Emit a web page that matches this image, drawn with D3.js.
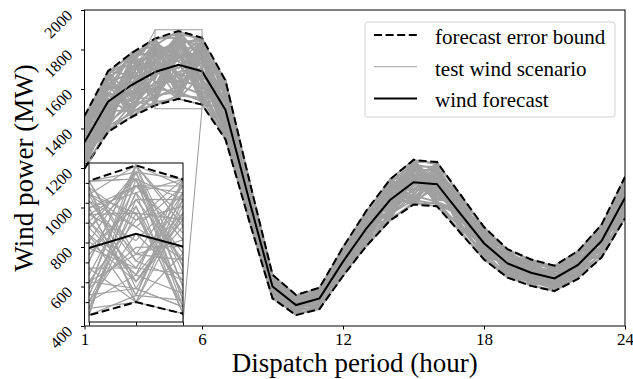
<!DOCTYPE html>
<html>
<head>
<meta charset="utf-8">
<title>Wind scenarios</title>
<style>
  body { margin: 0; background: #fff; }
  text { font-family: "Liberation Serif", "Times New Roman", serif; fill: #000; }
</style>
</head>
<body>
<script src="https://cdn.jsdelivr.net/npm/d3@7"></script>
<script>

// ---- data ----
var hours = d3.range(1, 25);
var forecast   = [1330, 1536, 1620, 1686, 1722, 1690, 1494, 1040, 600, 506, 540, 726,
                  895, 1038, 1128, 1118, 968, 819, 717, 670, 641, 709, 830, 1050];
var upperBound = [1463, 1690, 1782, 1855, 1894, 1859, 1643, 1144, 660, 557, 594, 799,
                  985, 1142, 1241, 1230, 1065, 901, 789, 737, 705, 780, 913, 1155];
var lowerBound = [1197, 1382, 1458, 1517, 1550, 1521, 1345, 936, 540, 455, 486, 653,
                  806, 934, 1015, 1006, 871, 737, 645, 603, 577, 638, 747, 945];

// error of each test scenario against the forecast, in percent
var scenarioErrPct = [
  [ 3,-7, 9,-2,10,-6, 4, 8,-9, 1,-4, 6,-10, 2, 7,-3, 5,-8, 0, 9,-5, 3,-1, 6],
  [-8, 5,-3, 9,-10, 7,-1,-6, 4,10,-2,-9, 8,-5, 0, 6,-7, 2,10,-4, 7,-9, 5,-2],
  [10, 2,-6, 4, 8,-9, 6,-3,-8, 5, 9, 1,-4,10,-7, 3,-1, 7,-6, 2,-10, 8, 4,-5],
  [-4,-10, 6, 1,-7, 3, 9, 5, 2,-8, 7,-5, 0,-9,10,-2, 8,-4, 6,-7, 1, 5,-10, 9],
  [ 6, 9,-8,-5, 2,10,-7, 1, 7,-3,-10, 4, 9,-1,-6, 8,-3,10,-9, 5, 3,-2, 7,-8],
  [-1, 4,10,-9, 5,-2,-8, 9,-4, 6, 2,-7, 5, 3,-10, 1, 7,-6, 8,-3,-9,10,-5, 0],
  [ 8,-3,-1, 7,-4, 5, 2,-10,10,-6, 3, 8,-8, 6, 4,-9, 0, 1,-5,10, 6,-7, 2, 9],
  [-10, 7, 3,-6, 9,-8,10, 4,-2, 0,-9, 5, 7,-4, 2, 9,-6,-3, 4,-1, 8,-4,10,-7],
  [ 2,-5, 8,10,-3, 1,-9, 6, 9,-7, 4,-1,-6, 8,-8, 5,10,-10, 3, 7,-2, 1,-8, 4],
  [-6, 1,-9, 3, 7, 9, 5,-7,-5, 8,-6,10, 2,-2, 9,-10, 4, 6,-8,-3, 5, 9, 0,-4],
  [ 5,10,-4,-8, 0,-5, 8, 2,-10, 4, 6,-3,-9, 7, 1,-6, 9,-2, 7, 4,-7,-8, 6,10],
  [-3,-8, 5, 6,-9,10,-4,-1, 7,-10, 9, 2, 6,-7,-3, 4,-9, 8,-1,-6,10, 3,-4, 1],
  [ 9,-2, 1,-7, 6,-1, 3,10,-6, 2,-8, 7,-2, 4, 8,-8, 1, 5,10,-9,-4, 6, 8,-3],
  [-7, 6,-10, 8, 3,-7,-6, 0, 5, 9, 1,-8,10,-10, 6, 2,-5,-9, 9, 1, 4,-6, 3, 7],
  [ 1,-9, 7, 2,-6, 4,10,-5, 3,-4, 8, 9,-7, 5,-2,10,-8, 3,-3, 6,-10, 7,-9, 2],
  [ 4, 3,-5,-10,10,-3,-2, 7,-7, 6,-5, 0, 4, 9,-9,-1, 6,-7, 2, 8, 9,-1, 5,-10],
  [-9,-4, 2, 5,-1, 8, 7,-9, 8,-2,10,-6,-3, 1, 5, 7,-10, 9,-7, 3,-3, 4,-6, 8],
  [ 7, 8,-7, 0, 4,-10, 1, 3,-3,10,-7, 6, 8,-8,-5, 3, 2,-5, 5,-10, 7,-3, 9, 5],
  [-2,-6, 4, 9,-8, 6,-10, 8, 1,-9, 5,-2,-1,10, 3,-7, 7, 0,-6, 9,-8, 8,-2,-6],
  [10,-1,-2,-4, 7, 2, 6,-4, 6, 3,-3,10,-8, 2,-10, 6,-4, 7, 1,-5, 2,-10,10, 3],
  [-5, 9, 8, 4,-5,-4,-3, 5,-8,-1, 7,-9, 3,-6,10, 0, 5,-8, 8, 2,-6, 6,-7,10],
  [ 0,-10,-6, 7, 1, 9, 4,-8,10, 7,-1, 3,-5, 9,-4, 8,-2, 4,-10, 6,10,-5, 1,-9],
  [ 6, 2,10,-3,-10, 5,-7, 9,-1,-5, 3,-4, 7,-3, 4,-5,10,-1, 6,-8, 0, 2,-3, 6],
  [-8, 5, 0,10, 8,-8, 9,-2, 4,-8,-10, 8, 1, 6,-6, 9,-7, 2,-4, 4,-5, 9, 7,-1],
  [ 3,-3,-8,-1, 5, 7,-5, 1,-9, 9, 2,-7,10,-9, 7,-3, 3,10,-2,-7, 8,-7, 4, 2],
  [-10,10, 3,-6,-2, 0, 8,-6, 7, 1,-4, 5,-10, 3, 9,-9,-1, 6, 9, 0,-9, 1,-8, 7],
  [ 8,-7, 6, 3, 9,-6, 0,10,-4,-6,10,-1, 5,-1,-8, 2, 8,-9, 4,10,-1,-4, 6,-5],
  [-4, 1,-9, 8,-7, 4,-8,-3, 9, 5,-9, 9,-4, 7, 1, 6,-6, 0,-8, 5, 6,10,-5, 3],
  [ 5, 7, 9,-9, 3,-9,10, 6,-6,-3, 6, 1, 9,-5, 6,-10, 5,-3, 7,-4, 3,-8, 9,-2],
  [-1,-8,-4, 6,-9, 8,-1,-10, 2, 8,-2,-10, 0,10,-5, 4,-9, 8,-9, 7,-7, 5, 0, 9],
  [ 9, 4, 1,-2,10, 3, 5, 2,-10, 0, 4, 7,-6,-4, 8,-4, 9,-6, 5,-2, 9,-2, 8,-8],
  [-6,-2, 7,10,-4,-5, 3, 7, 5,-10, 8,-3, 6, 1,-9,10, 0, 3,-5, 8,-4, 7,-10, 4],
  [ 2, 9,-10,-7, 6,10,-9,-5, 3, 6,-6, 4,-9, 8, 0,-7, 6,-10,10,-6, 4,-9, 3, 0],
  [-9,-5, 5, 2,-10,-1, 7, 4,-7,10, 0, 9, 3,-7, 5, 1,-8, 5,-3, 9,-10, 3,-6,10],
  [ 7, 0,-3, 9, 2, 6,-4,-9, 8,-4, 9,-6,-7, 5,10,-6, 4, 9,-10, 1, 5, 8, 2,-7],
  [-3, 6, 4,-5,-8,-9,10, 8,-5, 3,-10, 0, 8,-2,-1, 7,-3,-4, 2,-9,10,-6, 9, 1],
  [ 4,-9,10, 5, 7, 1,-6,-1, 1,-9, 5,10,-1, 4,-7, 3,10, 1,-7, 6,-2, 0,-4, 5],
  [-7, 3,-7,-3,-5, 7, 2, 3,10, 7,-7,-5, 9,-10, 2,-8, 1, 7, 8,-3, 1, 9, 7,-3],
  [10,-6, 2, 1, 9,-4,-10, 5,-2,-7, 1, 6,-3, 9,-3, 5,-5,-8, 3,10,-8,-3, 5, 8],
  [ 0, 8,-5, 7,-3, 9, 6,-7, 6, 4, 7,-8, 4,-8, 9, 0, 7, 4,-8,-5, 7, 4,-9, 6],
  [-5,-1, 8,-8, 4,-7, 9, 0,-8, 2,-5, 3,-9, 6, 4,-9, 2,-7, 6, 3,-6,10, 1,-10],
  [ 6, 5,-1, 4,-7, 5,-3, 9, 4,-2,10,-4, 7, 0,-9, 8,-10,10, 0,-8, 3,-5,10, 2],
  [-2,-7, 6,-10, 8,-3, 4,-4,-9, 9,-8, 8, 2,-5, 7,-2, 5,-2, 9, 4,-3, 6,-7, 9],
  [ 8,10,-9, 3,-6,10,-5, 6, 7,-5, 3,-9,-2,10,-4, 9,-4, 6,-6, 7, 8,-10, 4,-6],
  [-8,-3, 3, 8, 1,-2, 8,-8, 0, 6,-3, 5,10,-3, 3,-6, 8,-5, 4,-10,-1, 2, 8, 3],
  [ 3, 6,-2,-6,10, 4,-9, 2,-3,-8, 9,-2,-4, 7,-10, 6,-7, 8,-9, 2, 6,-8,-3, 7],
  [-10,-4, 9, 0,-5, 8, 1,-2, 8, 5,-1, 7,-8, 2, 6,-4, 3, 0, 7,-7, 9, 4,-10,-4],
  [ 5, 2,-6, 6, 6,-10, 5,10,-7, 0, 6,-10, 6,-9, 8, 2,-9, 9,-4, 8,-9, 7, 6, 4],
  // scenarios that stay close to one of the bounds
  [10, 9,10, 8,10, 9,10,10, 9,10, 8,10, 9,10,10, 9,10, 8,10, 9,10,10, 9,10],
  [ 8,10, 9,10, 9,10, 8, 9,10, 9,10, 9,10, 8, 9,10, 9,10, 9,10, 8, 9,10, 8],
  [ 9, 8, 7,10, 8, 7, 9, 8, 7, 8, 9, 8, 7, 9, 8, 7, 8, 9, 7, 8, 9, 7, 8, 9],
  [ 6, 7, 9, 6, 7, 8, 6, 7, 8, 6, 7, 6, 8, 6, 7, 8, 6, 7, 6, 8, 7, 6, 7, 6],
  [-10,-9,-10,-9,-10,-10,-9,-10,-10,-9,-10,-9,-10,-10,-9,-10,-9,-10,-10,-9,-10,-9,-10,-10],
  [-9,-10,-8,-10,-9,-8,-10,-9,-8,-10,-9,-10,-8,-9,-10,-8,-10,-9,-8,-10,-9,-8,-10,-9],
  [-7,-8,-9,-7,-8,-9,-7,-8,-7,-9,-8,-7,-9,-7,-8,-9,-7,-8,-9,-7,-8,-9,-7,-8],
  [-6,-7,-6,-8,-6,-7,-8,-6,-7,-6,-8,-7,-6,-7,-6,-8,-7,-6,-8,-6,-7,-6,-8,-7],
  [ 3, 4, 2, 5, 3, 4, 2, 3, 5, 4, 3, 2, 4, 5, 3, 4, 2, 3, 5, 4, 2, 3, 4, 3],
  [-3,-4,-2,-5,-3,-2,-4,-3,-5,-2,-4,-3,-2,-5,-3,-4,-2,-3,-4,-5,-3,-2,-4,-3]
];

var xTicks = [1, 6, 12, 18, 24];
var yTicks = [400, 600, 800, 1000, 1200, 1400, 1600, 1800, 2000];
var zoomX = [4, 6], zoomY = [1500, 1900];
var insetYTicks = [1550, 1600, 1650, 1700, 1750, 1800, 1850, 1900];
var legendItems = ["forecast error bound", "test wind scenario", "wind forecast"];

// ---- layout ----
var W = 633, H = 379;
var plot = { left: 84.5, right: 625, top: 10, bottom: 326 };
var inset = { left: 89, right: 183, top: 163, bottom: 322 };

var GREY = "#a0a0a0";
var DASH = "8,3.6";

var svg = d3.select("body").append("svg")
    .attr("width", W)
    .attr("height", H);

var x = d3.scaleLinear().domain([1, 24]).range([plot.left, plot.right]);
var y = d3.scaleLinear().domain([400, 2000]).range([plot.bottom, plot.top]);

// scenario values in MW
var scenarios = scenarioErrPct.map(function(row) {
    return row.map(function(e, i) { return forecast[i] * (1 + e / 100); });
});

function drawSeries(g, sx, sy, scenWidth) {
    var line = d3.line()
        .x(function(d, i) { return sx(hours[i]); })
        .y(function(d) { return sy(d); });

    g.selectAll("path.scen")
        .data(scenarios)
        .enter().append("path")
        .attr("class", "scen")
        .attr("d", line)
        .attr("fill", "none")
        .attr("stroke", GREY)
        .attr("stroke-width", scenWidth);

    [upperBound, lowerBound].forEach(function(b) {
        g.append("path")
            .attr("d", line(b))
            .attr("fill", "none")
            .attr("stroke", "#000")
            .attr("stroke-width", 2)
            .attr("stroke-dasharray", DASH);
    });

    g.append("path")
        .attr("d", line(forecast))
        .attr("fill", "none")
        .attr("stroke", "#000")
        .attr("stroke-width", 2);
}

// main plot
svg.append("defs").append("clipPath")
    .attr("id", "clipMain")
    .append("rect")
    .attr("x", plot.left).attr("y", plot.top)
    .attr("width", plot.right - plot.left)
    .attr("height", plot.bottom - plot.top);

var main = svg.append("g").attr("clip-path", "url(#clipMain)");
drawSeries(main, x, y, 1.8);

// frame
svg.append("rect")
    .attr("x", plot.left).attr("y", plot.top)
    .attr("width", plot.right - plot.left)
    .attr("height", plot.bottom - plot.top)
    .attr("fill", "none")
    .attr("stroke", "#000")
    .attr("stroke-width", 1);

// x axis
var gX = svg.append("g")
    .attr("transform", "translate(0," + plot.bottom + ")")
    .call(d3.axisBottom(x).tickValues(xTicks).tickSize(3.5).tickPadding(4));
gX.select(".domain").remove();
gX.selectAll("text")
    .attr("font-size", "17px")
    .attr("font-family", "Liberation Serif, serif")
    .attr("dy", null)
    .attr("y", 19);

// y axis
var gY = svg.append("g")
    .attr("transform", "translate(" + plot.left + ",0)")
    .call(d3.axisLeft(y).tickValues(yTicks).tickSize(3.5).tickFormat(d3.format("d")));
gY.select(".domain").remove();
gY.selectAll(".tick text")
    .attr("font-size", "16px")
    .attr("font-family", "Liberation Serif, serif")
    .attr("x", null).attr("dy", null)
    .attr("text-anchor", "end")
    .attr("transform", "translate(-11,6) rotate(-45)");

// axis titles
svg.append("text")
    .attr("x", (plot.left + plot.right) / 2)
    .attr("y", 372)
    .attr("text-anchor", "middle")
    .attr("font-size", "27px")
    .text("Dispatch period (hour)");

svg.append("text")
    .attr("transform", "translate(33," + (plot.top + plot.bottom) / 2 + ") rotate(-90)")
    .attr("text-anchor", "middle")
    .attr("font-size", "27px")
    .text("Wind power (MW)");

// zoom box + connectors
svg.append("rect")
    .attr("x", x(zoomX[0])).attr("y", y(zoomY[1]))
    .attr("width", x(zoomX[1]) - x(zoomX[0]))
    .attr("height", y(zoomY[0]) - y(zoomY[1]))
    .attr("fill", "none")
    .attr("stroke", "#999")
    .attr("stroke-width", 1);

svg.append("line")
    .attr("x1", x(zoomX[0])).attr("y1", y(zoomY[1]))
    .attr("x2", inset.left).attr("y2", inset.top)
    .attr("stroke", "#999").attr("stroke-width", 1);
svg.append("line")
    .attr("x1", x(zoomX[1])).attr("y1", y(zoomY[0]))
    .attr("x2", inset.right).attr("y2", inset.bottom)
    .attr("stroke", "#999").attr("stroke-width", 1);

// inset
var ix = d3.scaleLinear().domain(zoomX).range([inset.left, inset.right]);
var iy = d3.scaleLinear().domain(zoomY).range([inset.bottom, inset.top]);

svg.select("defs").append("clipPath")
    .attr("id", "clipInset")
    .append("rect")
    .attr("x", inset.left).attr("y", inset.top)
    .attr("width", inset.right - inset.left)
    .attr("height", inset.bottom - inset.top);

svg.append("rect")
    .attr("x", inset.left).attr("y", inset.top)
    .attr("width", inset.right - inset.left)
    .attr("height", inset.bottom - inset.top)
    .attr("fill", "#fff");

var ins = svg.append("g").attr("clip-path", "url(#clipInset)");
drawSeries(ins, ix, iy, 1.2);

var giX = svg.append("g")
    .attr("transform", "translate(0," + inset.bottom + ")")
    .call(d3.axisBottom(ix).tickValues([4, 5, 6]).tickSize(3.5).tickFormat(""));
giX.select(".domain").remove();
var giY = svg.append("g")
    .attr("transform", "translate(" + inset.left + ",0)")
    .call(d3.axisLeft(iy).tickValues(insetYTicks).tickSize(3.5).tickFormat(""));
giY.select(".domain").remove();

svg.append("rect")
    .attr("x", inset.left).attr("y", inset.top)
    .attr("width", inset.right - inset.left)
    .attr("height", inset.bottom - inset.top)
    .attr("fill", "none")
    .attr("stroke", "#000")
    .attr("stroke-width", 1);

// legend
var lg = svg.append("g").attr("transform", "translate(365,22)");
lg.append("rect")
    .attr("width", 250).attr("height", 95)
    .attr("rx", 3)
    .attr("fill", "#fff")
    .attr("fill-opacity", 0.85)
    .attr("stroke", "#d0d0d0")
    .attr("stroke-width", 1);

var legendStyle = [
    { stroke: "#000", dash: DASH, w: 2 },
    { stroke: GREY, dash: null, w: 1 },
    { stroke: "#000", dash: null, w: 2 }
];

legendItems.forEach(function(label, i) {
    var yy = 13 + i * 31.7;
    lg.append("line")
        .attr("x1", 9).attr("x2", 52)
        .attr("y1", yy).attr("y2", yy)
        .attr("stroke", legendStyle[i].stroke)
        .attr("stroke-width", legendStyle[i].w)
        .attr("stroke-dasharray", legendStyle[i].dash);
    lg.append("text")
        .attr("x", 70)
        .attr("y", yy + 9)
        .attr("font-size", "21px")
        .text(label);
});

</script>
</body>
</html>
